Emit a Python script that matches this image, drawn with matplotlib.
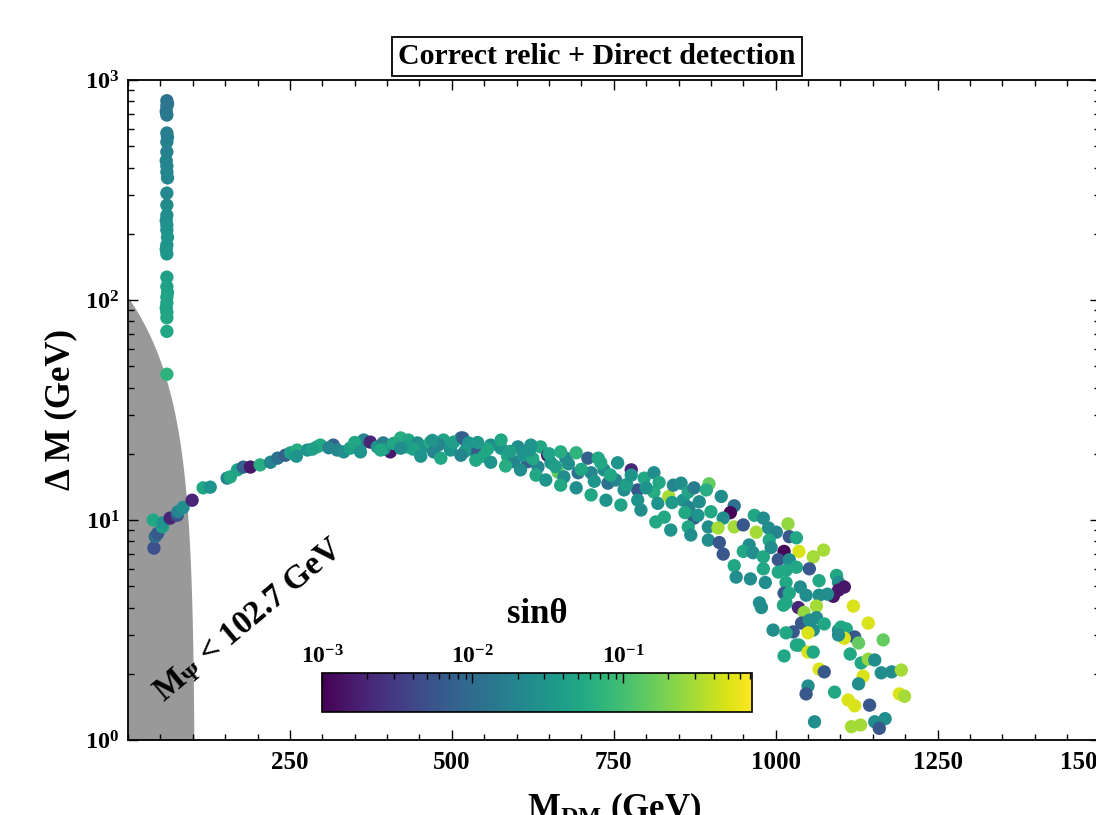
import matplotlib
matplotlib.use("Agg")
import matplotlib.pyplot as plt
import matplotlib.transforms as mtransforms
import numpy as np
from matplotlib.colors import LogNorm
from matplotlib.ticker import FixedLocator, LogLocator, MultipleLocator, NullFormatter

plt.rcParams['font.family'] = ['Liberation Serif', 'DejaVu Serif']
plt.rcParams['font.weight'] = 'bold'
plt.rcParams['axes.labelweight'] = 'bold'
plt.rcParams['mathtext.fontset'] = 'custom'
plt.rcParams['mathtext.rm'] = 'Liberation Serif:bold'
plt.rcParams['mathtext.it'] = 'Liberation Serif:bold'
plt.rcParams['mathtext.bf'] = 'Liberation Serif:bold'
plt.rcParams['mathtext.default'] = 'regular'

# ---------------- data (M_DM [GeV], Delta M [GeV], sin theta) ----------------
# vertical column near M_DM ~ 60 GeV
col_mdm = [60, 61, 60, 59, 60, 60, 61, 60, 60, 59, 60, 60, 61, 60, 60, 60, 59,
           60, 60, 61, 60, 59, 60, 60, 60, 61, 60, 60, 59, 60, 60, 60, 60]
col_dm = [805, 780, 762, 720, 693, 574, 550, 523, 471, 430, 406, 382, 359, 306,
          270, 243, 230, 219, 208, 193, 178, 170, 162, 127, 115, 108, 103, 97,
          92, 88, 83, 72, 46]
col_sin = [0.012, 0.012, 0.013, 0.013, 0.014, 0.016, 0.016, 0.017, 0.018, 0.019,
           0.02, 0.02, 0.021, 0.022, 0.024, 0.025, 0.026, 0.027, 0.028, 0.03,
           0.03, 0.031, 0.032, 0.04, 0.042, 0.043, 0.045, 0.045, 0.046, 0.047,
           0.048, 0.05, 0.07]

# arc: rising branch and plateau
arc1_mdm = [40, 42, 39, 46, 53, 54, 65, 76, 77, 85, 99, 116, 127, 153, 158, 169,
            178, 189, 204, 220, 231, 243, 251, 261, 277, 292, 297, 317, 323, 333,
            343, 359, 364, 374, 385, 394, 405, 421, 433, 447, 456, 467, 472, 487,
            498, 514, 524, 534, 540]
arc1_dm = [7.45, 8.4, 10.0, 8.7, 9.3, 9.7, 10.2, 10.5, 10.9, 11.4, 12.3, 14.0,
           14.1, 15.5, 15.7, 16.9, 17.4, 17.4, 17.8, 18.3, 19.1, 19.7, 20.2, 20.8,
           20.8, 21.5, 21.9, 21.9, 20.8, 20.4, 21.2, 21.9, 23.1, 22.6, 21.5, 22.4,
           20.4, 23.6, 23.1, 22.4, 21.5, 22.6, 20.4, 23.1, 20.8, 23.6, 21.9, 20.8,
           19.7]
arc1_sin = [0.005, 0.01, 0.05, 0.006, 0.04, 0.03, 0.002, 0.005, 0.02, 0.025,
            0.002, 0.05, 0.03, 0.02, 0.05, 0.045, 0.008, 0.0015, 0.06, 0.02,
            0.012, 0.007, 0.04, 0.06, 0.03, 0.06, 0.05, 0.008, 0.02, 0.025, 0.04,
            0.03, 0.02, 0.002, 0.03, 0.015, 0.0015, 0.06, 0.05, 0.025, 0.03, 0.06,
            0.02, 0.045, 0.03, 0.012, 0.025, 0.008, 0.04]

# arc: band between ~250 and ~890 GeV
arc2_mdm = [503, 517, 526, 540, 549, 560, 576, 586, 596, 602, 617, 633, 637, 648,
            653, 664, 673, 676, 692, 695, 710, 715, 726, 735, 741, 753, 756, 766,
            777, 787, 787, 797, 812, 812, 818, 828, 835, 842, 854, 857, 865, 866,
            874, 874, 882, 865, 869,
            260, 285, 310, 350, 395, 440, 480, 520, 555, 590, 610, 625, 660, 680,
            700, 720, 745, 770, 800, 820, 840, 860, 880, 470, 430, 410, 540, 620,
            650,
            452, 483, 514, 537, 560, 583, 606, 630, 645, 668, 692, 715, 738, 761,
            792, 815, 838, 421, 390, 359, 576, 622, 668, 730, 777]
arc2_dm = [22.6, 23.6, 22.4, 20.4, 19.5, 21.9, 21.2, 19.5, 18.4, 21.5, 18.4, 17.4,
           21.5, 19.7, 18.2, 16.5, 15.7, 19.1, 20.2, 16.4, 19.1, 16.4, 19.1, 16.9,
           14.7, 15.2, 18.2, 13.7, 16.9, 13.7, 12.3, 15.5, 16.4, 13.4, 11.9, 10.3,
           12.8, 14.4, 14.7, 12.3, 13.4, 11.4, 14.0, 10.2, 12.1, 9.3, 8.55,
           19.5, 21.0, 21.3, 22.5, 21.0, 21.0, 22.0, 20.5, 21.0, 20.5, 19.7, 19.0,
           17.5, 18.0, 17.0, 15.0, 16.0, 14.5, 14.0, 14.8, 12.0, 10.8, 10.5, 23.0,
           21.5, 22.3, 22.5, 20.8, 20.0,
           19.5, 19.1, 19.7, 18.7, 18.3, 17.6, 16.9, 16.0, 15.2, 14.4, 14.0, 13.0,
           12.3, 11.7, 11.1, 9.8, 9.0, 21.2, 20.8, 20.4, 23.1, 21.9, 20.4, 18.2,
           16.0]
arc2_sin = [0.04, 0.007, 0.03, 0.006, 0.05, 0.025, 0.03, 0.05, 0.02, 0.025, 0.007,
            0.02, 0.05, 0.0013, 0.03, 0.15, 0.025, 0.02, 0.07, 0.012, 0.008, 0.02,
            0.05, 0.025, 0.012, 0.02, 0.03, 0.025, 0.002, 0.006, 0.03, 0.05, 0.025,
            0.06, 0.03, 0.05, 0.3, 0.02, 0.025, 0.03, 0.045, 0.02, 0.015, 0.006,
            0.025, 0.05, 0.025,
            0.03, 0.04, 0.02, 0.05, 0.03, 0.045, 0.02, 0.035, 0.05, 0.04, 0.03,
            0.05, 0.04, 0.025, 0.05, 0.03, 0.05, 0.04, 0.03, 0.05, 0.035, 0.05,
            0.03, 0.03, 0.04, 0.05, 0.035, 0.03, 0.045,
            0.03, 0.05, 0.02, 0.05, 0.03, 0.06, 0.025, 0.05, 0.03, 0.05, 0.025,
            0.05, 0.03, 0.045, 0.025, 0.05, 0.03, 0.025, 0.05, 0.03, 0.05, 0.03,
            0.06, 0.05, 0.03]

# arc: falling, scattered tail (> ~890 GeV)
arc3_mdm = [897, 893, 916, 936, 930, 900, 919, 896, 911, 936, 950, 967, 981, 970,
            989, 1001, 1019, 1021, 1032, 896, 913, 919, 959, 950, 965, 981, 990,
            993, 1013, 1036, 1004, 1021, 1058, 1074, 936, 981, 1004, 1016, 1032,
            1052, 939, 961, 984, 1016, 1038, 1067, 1094, 1097, 1106, 1097, 1089,
            1013, 1021, 1047, 1067, 1080, 1063, 975, 978, 1012, 1016, 1035, 1044,
            1120, 1143, 1040, 1052, 1063, 1075, 1058, 1027, 1016, 996, 1050, 1097,
            1101, 1109, 1122, 1128, 1106, 1097, 1166, 1032, 1036, 1050, 1058, 1013,
            1115, 1132, 1143, 1153, 1163, 1179, 1194, 1067, 1075, 1135, 1128, 1050,
            1047, 1091, 1112, 1122, 1145, 1191, 1199, 1060, 1117, 1131, 1153, 1169,
            1160]
arc3_dm = [14.6, 13.7, 12.8, 11.6, 10.8, 10.9, 10.2, 9.3, 9.2, 9.3, 9.5, 10.5,
           10.2, 8.8, 9.2, 8.8, 9.6, 8.4, 8.3, 8.1, 7.9, 7.0, 7.7, 7.2, 7.1, 6.8,
           8.1, 7.5, 7.2, 7.2, 6.6, 6.6, 6.8, 7.3, 6.2, 6.0, 5.8, 5.9, 6.1, 6.0,
           5.5, 5.4, 5.2, 5.2, 4.96, 5.3, 5.6, 5.2, 4.96, 4.8, 4.5, 4.65, 4.65,
           4.55, 4.55, 4.6, 4.06, 4.2, 4.0, 4.1, 4.2, 4.0, 3.8, 4.06, 3.4, 3.4,
           3.5, 3.6, 3.37, 3.16, 3.1, 3.07, 3.16, 3.07, 3.16, 3.26, 3.2, 2.94,
           2.76, 2.9, 3.0, 2.85, 2.7, 2.7, 2.51, 2.51, 2.41, 2.46, 2.24, 2.33,
           2.31, 2.02, 2.04, 2.08, 2.1, 2.04, 1.95, 1.8, 1.76, 1.62, 1.65, 1.52,
           1.43, 1.44, 1.62, 1.58, 1.21, 1.15, 1.17, 1.21, 1.25, 1.13]
arc3_sin = [0.15, 0.06, 0.025, 0.012, 0.0011, 0.05, 0.025, 0.025, 0.3, 0.3,
            0.006, 0.05, 0.025, 0.3, 0.025, 0.02, 0.25, 0.006, 0.05, 0.025, 0.006,
            0.006, 0.025, 0.05, 0.025, 0.05, 0.05, 0.025, 0.0011, 0.5, 0.006,
            0.025, 0.3, 0.3, 0.05, 0.05, 0.05, 0.05, 0.05, 0.006, 0.025, 0.025,
            0.025, 0.05, 0.025, 0.05, 0.05, 0.025, 0.0015, 0.0015, 0.0015, 0.006,
            0.05, 0.025, 0.025, 0.025, 0.3, 0.025, 0.025, 0.05, 0.05, 0.002, 0.25,
            0.5, 0.5, 0.006, 0.025, 0.025, 0.05, 0.025, 0.006, 0.05, 0.025, 0.5,
            0.025, 0.05, 0.05, 0.006, 0.15, 0.5, 0.025, 0.15, 0.05, 0.05, 0.5,
            0.05, 0.05, 0.05, 0.05, 0.25, 0.025, 0.025, 0.025, 0.3, 0.5, 0.006,
            0.5, 0.025, 0.025, 0.006, 0.05, 0.5, 0.5, 0.006, 0.5, 0.3, 0.025, 0.3,
            0.3, 0.025, 0.025, 0.006]

mpsi_limit = 102.7           # M_Psi = M_DM + Delta M < 102.7 GeV excluded
x_ticks = [250, 500, 750, 1000, 1250, 1500]
sin_min, sin_max = 1e-3, 0.72

mdm = col_mdm + arc1_mdm + arc2_mdm + arc3_mdm
dmass = col_dm + arc1_dm + arc2_dm + arc3_dm
sinth = col_sin + arc1_sin + arc2_sin + arc3_sin

# ---------------- figure ----------------
W, H = 1096, 815
fig = plt.figure(figsize=(W / 100, H / 100), dpi=100)
ax = fig.add_axes([128 / W, 75 / H, (1099.5 - 128) / W, 660 / H])

# excluded region
yb = np.logspace(0, np.log10(mpsi_limit), 300)
ax.fill_betweenx(yb, 0, mpsi_limit - yb, color='#999999', lw=0, zorder=1)

norm = LogNorm(vmin=sin_min, vmax=sin_max)
sc = ax.scatter(mdm, dmass, c=sinth, cmap='viridis', norm=norm, s=92,
                linewidths=0, zorder=3)

ax.set_yscale('log')
ax.set_xlim(0, 1500)
ax.set_ylim(1, 1000)
ax.xaxis.set_major_locator(FixedLocator(x_ticks))
ax.xaxis.set_minor_locator(MultipleLocator(50))
ax.yaxis.set_major_locator(LogLocator(base=10, numticks=10))
ax.yaxis.set_minor_locator(LogLocator(base=10, subs=np.arange(2, 10), numticks=20))
ax.yaxis.set_minor_formatter(NullFormatter())
ax.tick_params(which='both', direction='in', top=True, right=True, width=1.0)
ax.tick_params(which='major', length=7.5)
ax.tick_params(which='minor', length=4.3)
ax.tick_params(axis='x', which='major', labelsize=18, pad=8)
ax.tick_params(axis='y', which='major', labelsize=17.5, pad=6)
for sp in ax.spines.values():
    sp.set_linewidth(1.3)

# the last x tick label sits a little to the left in the original
fig.canvas.draw()
last_lbl = ax.get_xticklabels()[-1]
last_lbl.set_transform(last_lbl.get_transform() +
                       mtransforms.ScaledTranslation(-0.15, 0, fig.dpi_scale_trans))

ax.set_xlabel(r'$\mathdefault{M_{DM}}$ (GeV)', fontsize=25, labelpad=12)
ax.set_ylabel('Δ M (GeV)', fontsize=25, labelpad=6)

ax.text(186, 3.5, r'$\mathdefault{M_{\Psi}}$ < 102.7 GeV', fontsize=24,
        rotation=40, rotation_mode='anchor', ha='center', va='center', zorder=4)

fig.text(597 / W, 1 - 56.5 / H, 'Correct relic + Direct detection', fontsize=21.5,
         ha='center', va='center',
         bbox=dict(boxstyle='square,pad=0.2', fc='white', ec='black', lw=1.3))

# colorbar
cax = fig.add_axes([322 / W, (H - 712) / H, 430 / W, 39 / H])
cb = fig.colorbar(sc, cax=cax, orientation='horizontal')
cax.xaxis.set_ticks_position('top')
cax.xaxis.set_label_position('top')
cax.tick_params(which='both', direction='in', top=True, bottom=False,
                labeltop=True, labelbottom=False, width=1.0)
cax.tick_params(which='major', length=7, labelsize=17, pad=3)
cax.tick_params(which='minor', length=4)
cb.outline.set_linewidth(1.2)
cb.set_label('sinθ', fontsize=25, labelpad=16)

fig.savefig('out.png', dpi=100)
